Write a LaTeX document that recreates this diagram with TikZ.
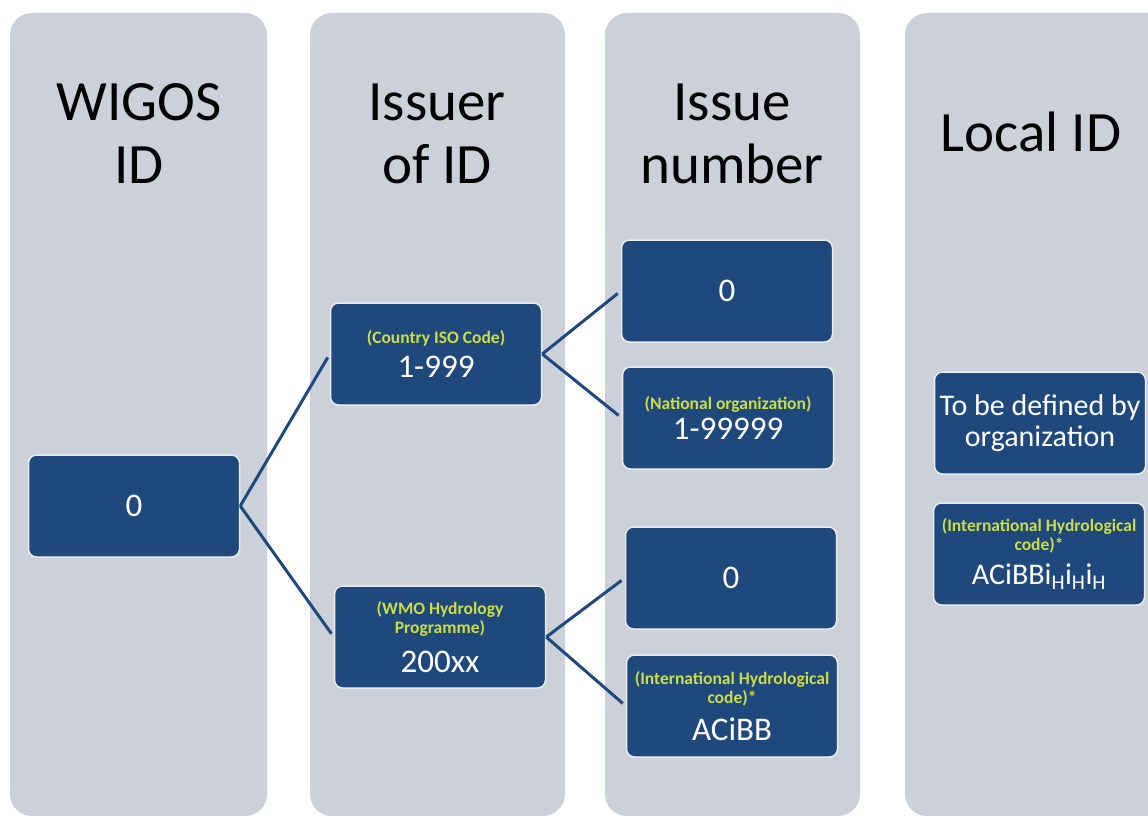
\documentclass[tikz,border=0pt]{standalone}
\usepackage{fontspec}
\setmainfont{Carlito}
\definecolor{colbg}{RGB}{204,208,217}
\definecolor{boxblue}{RGB}{31,73,125}
\definecolor{boxrim}{RGB}{232,236,240}
\definecolor{codeylw}{RGB}{204,221,68}
\newcommand{\codenote}{\fontsize{17.5}{19}\selectfont\bfseries\color{codeylw}}
\newcommand{\bignum}{\fontsize{33}{38}\selectfont}
\newcommand{\localtxt}{\fontsize{30}{34}\selectfont}

\begin{document}
\begin{tikzpicture}[x=1pt,y=-1pt]
        \useasboundingbox (0,0) rectangle (1148,816);
        \clip (0,0) rectangle (1148,816);

        % grey columns
        \begin{scope}[rounded corners=22pt]
          \fill[colbg] (10,13)  rectangle (267,816);
          \fill[colbg] (310,13) rectangle (565,816);
          \fill[colbg] (605,13) rectangle (860,816);
          \fill[colbg] (905,13) rectangle (1175,816);
        \end{scope}

        \begin{scope}[every node/.style={font=\fontsize{57}{63}\selectfont,align=center,inner sep=0pt}]
          \node (wigos)  at (139,134)  {WIGOS\\ID};
          \node (issuer) at (437,134)  {Issuer\\of ID};
          \node (issue)  at (732,134)  {Issue\\number};
          \node (local)  at (1031,132) {Local ID};
        \end{scope}

        \begin{scope}[every node/.style={rectangle,rounded corners=8pt,fill=boxblue,draw=boxrim,line width=1.5pt,
            minimum width=211pt,minimum height=102pt,inner sep=0pt,align=center,text=white,
            font=\fontsize{17.5}{19}\selectfont}]
          \node (b0) at (134,506)  {{\bignum 0}};
          \node (b1) at (436,354)  {{\codenote (Country ISO Code)}\\[8pt]{\bignum 1-999}};
          \node (b2) at (440,637)  {{\codenote (WMO Hydrology}\\{\codenote Programme)}\\[13pt]{\bignum 200xx}};
          \node (c1) at (727,291)  {{\bignum 0}};
          \node (c2) at (728,418)  {{\codenote (National organization)}\\[4pt]{\bignum 1-99999}};
          \node (c3) at (731,578)  {{\bignum 0}};
          \node (c4) at (732,706)  {{\codenote (International Hydrological}\\{\codenote code)*}\\[11pt]{\bignum ACiBB}};
          \node (d1) at (1040,423) {{\localtxt To be defined by}\\[5pt]{\localtxt organization}};
          \node (d2) at (1039,554) {{\codenote (International Hydrological}\\{\codenote code)*}\\[10pt]{\localtxt ACiBBi\textsubscript{H}i\textsubscript{H}i\textsubscript{H}}};
        \end{scope}

        \begin{scope}[every edge/.style={draw=boxblue,line width=3pt,shorten >=4pt}]
          \path (b0.east) edge (b1.west);
          \path (b0.east) edge (b2.west);
          \path (b1.east) edge (c1.west);
          \path (b1.east) edge (c2.west);
          \path (b2.east) edge (c3.west);
          \path (b2.east) edge (c4.west);
        \end{scope}

      \end{tikzpicture}
\end{document}
